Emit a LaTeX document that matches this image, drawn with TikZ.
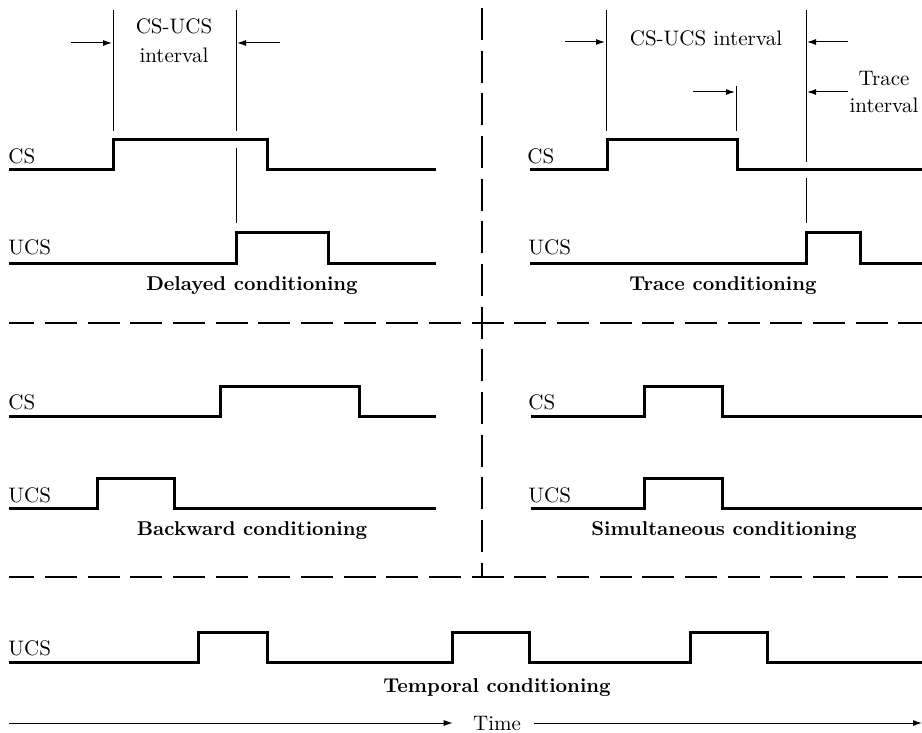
\documentclass[tikz,border=0pt]{standalone}
\usetikzlibrary{arrows.meta}

\begin{document}
\begin{tikzpicture}[x=0.5pt,y=-0.5pt,
	font=\fontsize{10.5}{13}\selectfont,
	signal/.style={line width=1.5pt},
	guide/.style={line width=0.5pt},
	sep/.style={line width=0.6pt, dash pattern=on 16pt off 5.33pt},
	lbl/.style={inner sep=0pt, anchor=base west},
	ttl/.style={inner sep=0pt, anchor=base, font=\fontsize{10}{12}\selectfont\bfseries},
	>={Latex[length=4.5pt,width=3pt]}]

\useasboundingbox (0,0) rectangle (922,733);
\clip (0,0) rectangle (922,733);

\def\hgt{30}

% \mypulse{from}{to}{low}{rise}{fall}
\newcommand*{\mypulse}[5]{
	\draw [signal] (#1,#3) -- (#4,#3) -- (#4,#3-\hgt) -- (#5,#3-\hgt) -- (#5,#3) -- (#2,#3);
}

	% separators
	\draw [sep] (482,8) -- (482,577);
	\draw [sep, dash phase=3.35pt] (9,323) -- (922,323);
	\draw [sep, dash phase=3.35pt] (9,577) -- (922,577);

	% delayed
	\node [lbl] (csdel) at (8,163) {CS};
	\node [lbl] (ucsdel) at (8,255) {UCS};
	\mypulse{9}{436}{170}{113}{267}
	\mypulse{9}{436}{263}{236}{328}
	\draw [guide] (113,10) -- (113,131);
	\draw [guide] (236,10) -- (236,131);
	\draw [guide] (236,148) -- (236,223);
	\node [align=center, inner sep=0pt, font=\fontsize{10.5}{14.5}\selectfont, anchor=base] (ivdel) at (174,63) {CS-UCS\\interval};
	\coordinate (dl) at (112,43);
	\coordinate (dr) at (237,43);
	\draw [guide, ->] (71,43) -- (dl);
	\draw [guide, ->] (280,43) -- (dr);
	\node [ttl] (tdel) at (252,291) {Delayed conditioning};

	% trace
	\node [lbl] (cstr) at (527,163) {CS};
	\node [lbl] (ucstr) at (528,255) {UCS};
	\mypulse{530}{922}{170}{607}{737}
	\mypulse{530}{922}{263}{806}{860}
	\draw [guide] (606,10) -- (606,131);
	\draw [guide] (806,10) -- (806,162);
	\draw [guide] (806,178) -- (806,223);
	\draw [guide] (736,86) -- (736,131);
	\node [inner sep=0pt, anchor=base] (ivtr) at (706,46) {CS-UCS interval};
	\node [align=center, inner sep=0pt, font=\fontsize{10.5}{13.5}\selectfont, anchor=base] (trint) at (884,113) {Trace\\interval};
	\coordinate (tl) at (605,42);
	\coordinate (tr) at (807,42);
	\coordinate (sl) at (735,92);
	\coordinate (sr) at (807,92);
	\draw [guide, ->] (565,42) -- (tl);
	\draw [guide, ->] (848,42) -- (tr);
	\draw [guide, ->] (693,92) -- (sl);
	\draw [guide, ->] (848,92) -- (sr);
	\node [ttl] (ttr) at (723,291) {Trace conditioning};

	% backward
	\node [lbl] (csbw) at (8,409) {CS};
	\node [lbl] (ucsbw) at (8,502) {UCS};
	\mypulse{9}{436}{416}{220}{359}
	\mypulse{9}{436}{508}{97}{174}
	\node [ttl] (tbw) at (252,535) {Backward conditioning};

	% simultaneous
	\node [lbl] (cssim) at (528,409) {CS};
	\node [lbl] (ucssim) at (528,502) {UCS};
	\mypulse{531}{922}{416}{644}{722}
	\mypulse{531}{922}{508}{644}{722}
	\node [ttl] (tsim) at (724,535) {Simultaneous conditioning};

	% temporal
	\node [lbl] (ucstmp) at (8,655) {UCS};
	\draw [signal] (9,662) \foreach \a/\b in {198/267,452/529,690/767}{
		-- (\a,662) -- (\a,662-\hgt) -- (\b,662-\hgt) -- (\b,662)} -- (922,662);
	\node [ttl] (ttmp) at (497,692) {Temporal conditioning};

	% time axis
	\node [inner sep=0pt, anchor=base] (time) at (497,730) {Time};
	\coordinate (ta) at (9,0);
	\coordinate (tb) at (922,0);
	\draw [guide, ->] (ta |- time.west) -- ([xshift=-10pt]time.west);
	\draw [guide, ->] ([xshift=6.5pt]time.east) -- (tb |- time.east);

\end{tikzpicture}
\end{document}
